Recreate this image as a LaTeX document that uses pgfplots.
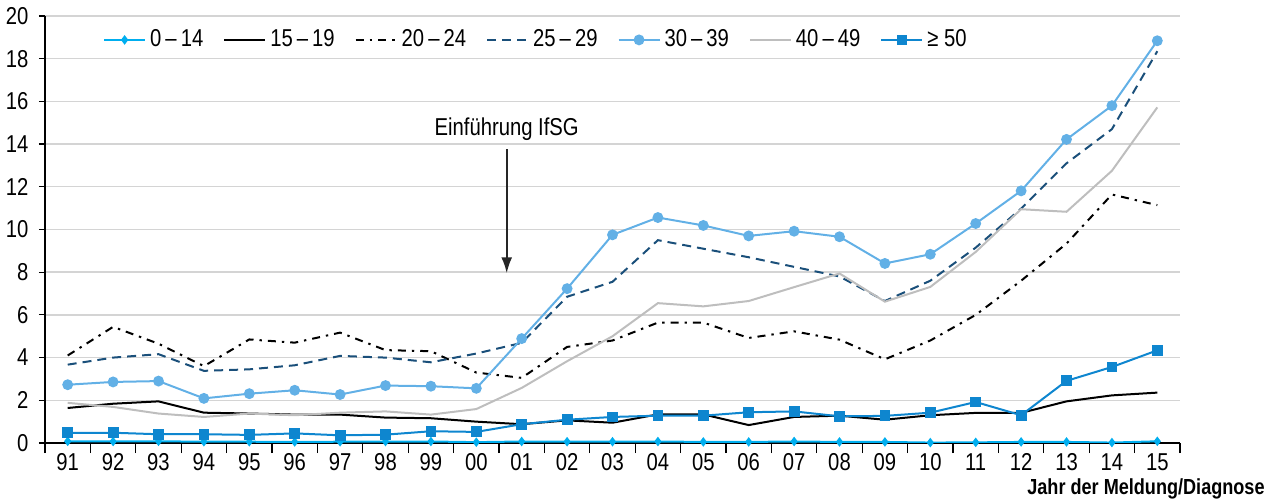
\documentclass[border=0pt]{standalone}
\usepackage{pgfplots}
\pgfplotsset{compat=1.18}
\usepackage{pgfplotstable}
\usepackage{fontspec}
\setmainfont{Liberation Sans}[FakeStretch=0.83]
\usetikzlibrary{arrows.meta}
\definecolor{cA}{HTML}{00AEEF}
\definecolor{cD}{HTML}{1A4F7A}
\definecolor{cE}{HTML}{62B0E6}
\definecolor{cF}{HTML}{BEBEBE}
\definecolor{cG}{HTML}{0E86CF}
\definecolor{gridc}{HTML}{D4D4D4}

\pgfplotstableread{
x   a     b     c     d     e     f     g
0   0.08  1.64  4.10  3.67  2.73  1.88  0.48
1   0.07  1.84  5.44  4.00  2.86  1.69  0.48
2   0.08  1.95  4.65  4.16  2.90  1.38  0.41
3   0.06  1.42  3.60  3.38  2.09  1.22  0.41
4   0.06  1.38  4.85  3.45  2.31  1.38  0.38
5   0.05  1.33  4.70  3.64  2.47  1.30  0.45
6   0.06  1.33  5.17  4.08  2.27  1.42  0.36
7   0.07  1.19  4.35  4.00  2.69  1.48  0.39
8   0.07  1.16  4.30  3.78  2.66  1.33  0.55
9   0.04  1.00  3.30  4.19  2.56  1.59  0.52
10  0.07  0.88  3.05  4.69  4.89  2.58  0.88
11  0.06  1.06  4.50  6.85  7.23  3.83  1.09
12  0.06  0.95  4.80  7.55  9.75  5.00  1.22
13  0.07  1.34  5.64  9.50  10.56 6.55  1.28
14  0.05  1.34  5.64  9.10  10.19 6.40  1.28
15  0.05  0.84  4.92  8.70  9.70  6.65  1.44
16  0.07  1.22  5.23  8.25  9.92  7.30  1.48
17  0.05  1.28  4.84  7.80  9.66  7.94  1.25
18  0.05  1.09  3.92  6.65  8.41  6.62  1.27
19  0.02  1.30  4.80  7.60  8.84  7.31  1.42
20  0.03  1.41  6.00  9.15  10.28 8.95  1.92
21  0.05  1.41  7.60  10.98 11.81 10.95 1.30
22  0.05  1.95  9.34  13.10 14.22 10.83 2.91
23  0.02  2.23  11.64 14.70 15.80 12.75 3.56
24  0.08  2.36  11.14 18.35 18.84 15.72 4.34
}\datatable

\begin{document}
\fontsize{12.2}{14}\selectfont
\begin{tikzpicture}
\begin{axis}[
  name=ax,
  scale only axis, width=567.5pt, height=213.5pt,
  xmin=-0.5, xmax=24.5, ymin=0, ymax=20,
  axis x line=bottom, axis y line=left,
  axis line style={-, black, line width=0.8pt},
  tick align=outside,
  xtick={0,...,24},
  xticklabels={91,92,93,94,95,96,97,98,99,00,01,02,03,04,05,06,07,08,09,10,11,12,13,14,15},
  major x tick style={draw=none},
  minor xtick={-0.5,0.5,...,24.5},
  minor x tick style={black, line width=0.6pt},
  minor tick length=5pt,
  ytick={0,2,...,20},
  major y tick style={black, line width=0.6pt},
  major tick length=3pt,
  ymajorgrids, grid style={gridc, line width=0.7pt},
  /pgf/number format/assume math mode=true,
  tick label style={font=\fontsize{12.2}{14}\selectfont},
  xticklabel style={yshift=-1pt, inner sep=1pt},
  yticklabel style={xshift=-1pt},
  legend style={at={(rel axis cs:0.0456,0.944)}, anchor=west, draw=none, fill=none,
    font=\fontsize{12.2}{14}\selectfont,
    /tikz/every even column/.append style={column sep=8pt}},
  legend columns=-1,
  legend image code/.code={\draw[mark repeat=2,mark phase=2] plot coordinates {(0cm,0cm)(0.36cm,0cm)(0.72cm,0cm)};},
]
\addplot[cA, line width=1pt, mark=diamond*, mark size=1.6pt] table[x=x,y=a]{\datatable};
\addlegendentry{0\,–\,14}
\addplot[black, line width=1pt] table[x=x,y=b]{\datatable};
\addlegendentry{15\,–\,19}
\addplot[black, line width=1pt, dash pattern=on 4pt off 3pt on 1.2pt off 3pt] table[x=x,y=c]{\datatable};
\addlegendentry{20\,–\,24}
\addplot[cD, line width=1pt, dash pattern=on 4.5pt off 3pt] table[x=x,y=d]{\datatable};
\addlegendentry{25\,–\,29}
\addplot[cE, line width=1pt, mark=*, mark size=2.2pt] table[x=x,y=e]{\datatable};
\addlegendentry{30\,–\,39}
\addplot[cF, line width=1pt] table[x=x,y=f]{\datatable};
\addlegendentry{40\,–\,49}
\addplot[cG, line width=1pt, mark=square*, mark size=2.2pt] table[x=x,y=g]{\datatable};
\addlegendentry{≥ 50}
\node[font=\fontsize{12.2}{14}\selectfont] at (axis cs:9.67,14.7) {Einführung IfSG};
\draw[-{Latex[length=8pt,width=5.5pt]}, line width=1pt, black!85] (axis cs:9.67,13.75) -- (axis cs:9.67,7.95);
\end{axis}
\node[anchor=base east, inner sep=0pt, font=\fontsize{10.9}{12}\selectfont\bfseries] at ([xshift=42.5pt,yshift=-26pt]ax.south east) {Jahr der Meldung/Diagnose};
\pgfresetboundingbox
\path[use as bounding box] (ax.south west) ++(-22.5pt,-29.5pt) rectangle ++(636pt,251pt);
\end{tikzpicture}
\end{document}
